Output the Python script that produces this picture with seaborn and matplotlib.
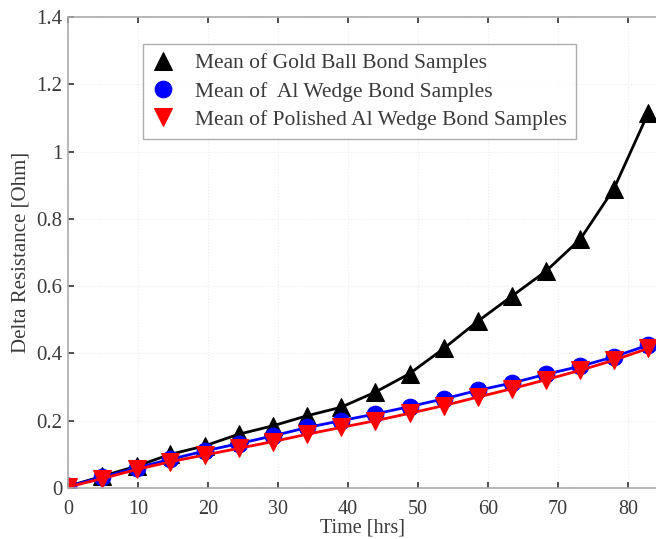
import matplotlib
matplotlib.use("Agg")
import matplotlib.pyplot as plt
import seaborn as sns
import pandas as pd

time_hrs = [0, 4.9, 9.8, 14.6, 19.5, 24.4, 29.3, 34.2, 39.0, 43.9, 48.8, 53.7, 58.5, 63.4, 68.3, 73.2, 78.0, 82.9]
gold_ball = [0.005, 0.035, 0.065, 0.100, 0.125, 0.160, 0.185, 0.215, 0.240, 0.285, 0.340, 0.415, 0.495, 0.570, 0.645, 0.740, 0.890, 1.115]
al_wedge = [0.005, 0.032, 0.060, 0.085, 0.110, 0.132, 0.155, 0.180, 0.200, 0.220, 0.242, 0.265, 0.290, 0.312, 0.338, 0.362, 0.390, 0.425]
polished_al = [0.003, 0.028, 0.055, 0.078, 0.098, 0.118, 0.138, 0.160, 0.180, 0.200, 0.222, 0.245, 0.270, 0.295, 0.322, 0.350, 0.380, 0.415]

labels = ["Mean of Gold Ball Bond Samples",
          "Mean of  Al Wedge Bond Samples",
          "Mean of Polished Al Wedge Bond Samples"]
x_ticks = [0, 10, 20, 30, 40, 50, 60, 70, 80]
y_ticks = [0, 0.2, 0.4, 0.6, 0.8, 1.0, 1.2, 1.4]
y_tick_labels = ["0", "0.2", "0.4", "0.6", "0.8", "1", "1.2", "1.4"]

sns.set_theme(style="white")
plt.rcParams['font.family'] = ['Liberation Serif', 'DejaVu Serif']

fig = plt.figure(figsize=(6.56, 5.39), dpi=100)
ax = fig.add_axes([68/656, (539-488)/539, 1 - 68/656, (488-17)/539])

series = [(gold_ball, labels[0], "black", "^", 13),
          (al_wedge, labels[1], "blue", "o", 12),
          (polished_al, labels[2], "red", "v", 13)]
for vals, lab, col, mk, ms in series:
    df = pd.DataFrame({"t": time_hrs, "r": vals})
    sns.lineplot(data=df, x="t", y="r", ax=ax, color=col, marker=mk,
                 markersize=ms, markeredgecolor=col, linewidth=2, label=lab)

ax.set_xlim(0, 84.0)
ax.set_ylim(0, 1.4)
ax.set_xticks(x_ticks)
ax.set_yticks(y_ticks)
ax.set_yticklabels(y_tick_labels)
ax.grid(True, color="#ececec", linestyle=":", linewidth=0.8)
ax.tick_params(direction="in", length=4, labelsize=15, colors="#3a3a3a",
               top=True, bottom=True, left=True, right=False)
ax.tick_params(axis="x", pad=9, labelsize=14.5)
ax.tick_params(axis="y", pad=4)
for sp in ["top", "bottom", "left"]:
    ax.spines[sp].set_color("#aaaaaa")
    ax.spines[sp].set_linewidth(1.2)
ax.spines["right"].set_visible(False)
ax.set_xlabel("Time [hrs]", fontsize=14.5, color="#3a3a3a")
ax.xaxis.set_label_coords(0.5, (488 - 518) / 471)
ax.set_ylabel("Delta Resistance [Ohm]", fontsize=15, color="#3a3a3a", labelpad=4)

leg = ax.legend(loc="upper left", bbox_to_anchor=(0.128, 0.942), fontsize=15.5,
                frameon=True, fancybox=False, edgecolor="#999999",
                handlelength=1.0, handletextpad=1.0, borderpad=0.42,
                labelspacing=0.38, borderaxespad=0)
leg.get_frame().set_linewidth(1.0)
for h in leg.legend_handles:
    h.set_linestyle("none")
for t in leg.get_texts():
    t.set_color("#3a3a3a")

fig.savefig("out.png", dpi=100)
